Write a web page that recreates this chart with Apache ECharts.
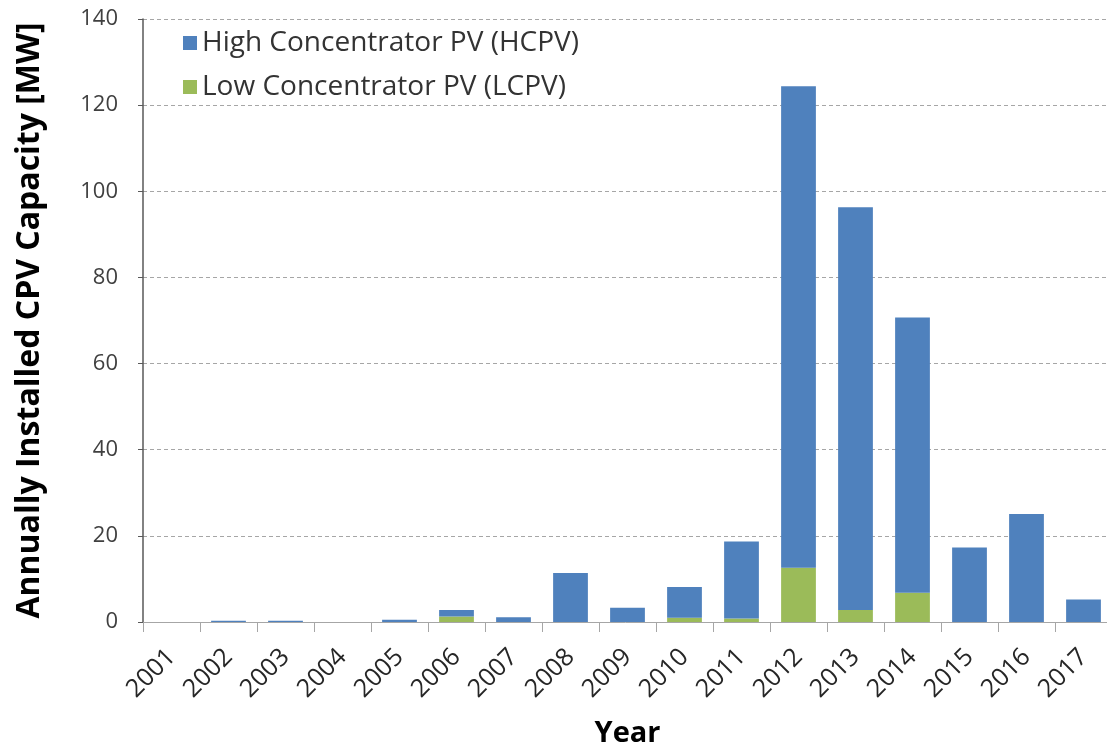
<!DOCTYPE html>
<html><head><meta charset="utf-8">
<script src="https://cdn.jsdelivr.net/npm/echarts@6/dist/echarts.min.js"></script>
<style>html,body{margin:0;padding:0;background:#fff}#c{width:1107px;height:747px}</style>
</head><body><div id="c"></div>
<script>
const years = ['2001','2002','2003','2004','2005','2006','2007','2008','2009','2010','2011','2012','2013','2014','2015','2016','2017'];
const lcpv = [0, 0, 0, 0, 0, 1.3, 0, 0, 0, 1.0, 0.8, 12.6, 2.8, 6.8, 0, 0, 0];
const hcpv = [0, 0.3, 0.3, 0, 0.55, 1.5, 1.1, 11.4, 3.3, 7.1, 17.9, 111.8, 93.5, 63.9, 17.3, 25.1, 5.2];
const yTicks = [0, 20, 40, 60, 80, 100, 120, 140];

const chart = echarts.init(document.getElementById('c'));
const font = '"Open Sans", "Noto Sans", sans-serif';
chart.setOption({
  animation: false,
  textStyle: { fontFamily: font },
  grid: { left: 143, right: -5, top: 19, bottom: 125, outerBoundsMode: 'none', containLabel: false },
  legend: {
    orient: 'vertical', left: 178, top: 24, itemGap: 16,
    itemWidth: 14, itemHeight: 14, icon: 'rect',
    textStyle: { fontSize: 28, color: '#333', fontFamily: font },
    data: ['High Concentrator PV (HCPV)', 'Low Concentrator PV (LCPV)']
  },
  xAxis: {
    type: 'category', data: years,
    name: 'Year', nameLocation: 'middle', nameGap: 97,
    nameTextStyle: { fontSize: 29, fontWeight: 'bold', color: '#000' },
    axisLine: { lineStyle: { color: '#a6a6a6', width: 1 } },
    axisTick: { show: true, length: 10, lineStyle: { color: '#a6a6a6' } },
    axisLabel: { rotate: 45, fontSize: 25, color: '#262626', margin: 31, hideOverlap: false, interval: 0 }
  },
  yAxis: {
    type: 'value', min: yTicks[0], max: yTicks[yTicks.length - 1], interval: 20,
    name: 'Annually Installed CPV Capacity [MW]', nameLocation: 'middle', nameGap: 97,
    nameTextStyle: { fontSize: 32, fontWeight: 'bold', color: '#000' },
    axisLine: { show: true, lineStyle: { color: '#595959', width: 1.5 } },
    axisTick: { show: true, length: 5, lineStyle: { color: '#595959' } },
    axisLabel: { fontSize: 22, color: '#404040', margin: 25 },
    splitLine: { lineStyle: { color: '#a6a6a6', type: [4, 3] } }
  },
  series: [
    { name: 'Low Concentrator PV (LCPV)', type: 'bar', stack: 'a', data: lcpv, barWidth: '61%',
      itemStyle: { color: '#9BBB59' } },
    { name: 'High Concentrator PV (HCPV)', type: 'bar', stack: 'a', data: hcpv, barWidth: '61%',
      itemStyle: { color: '#4F81BD' } }
  ]
});
</script></body></html>
